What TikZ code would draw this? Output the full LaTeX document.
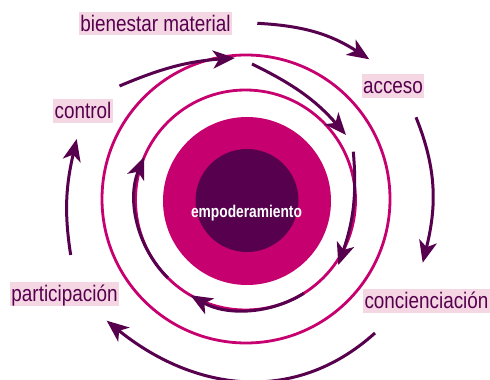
\documentclass[tikz,border=0pt]{standalone}
\usepackage{fontspec}
\setmainfont{Liberation Sans}
\newfontfamily\labfont{Liberation Sans}[FakeStretch=0.84]
\newfontfamily\cenfont{Liberation Sans}[FakeStretch=0.81]
\usetikzlibrary{arrows.meta,calc}
\definecolor{dpurple}{RGB}{86,0,78}
\definecolor{mag}{RGB}{198,0,110}
\definecolor{lpink}{RGB}{245,215,228}
\begin{document}
\begin{tikzpicture}[x=1pt,y=1pt,
  lbl/.style={fill=lpink, text=dpurple, inner xsep=1.5pt, inner ysep=0pt,
    text height=19.5pt, text depth=4pt, font=\labfont\fontsize{22.5}{26}\selectfont},
  ring/.style={circle, draw=mag, line width=2.8pt, inner sep=0pt},
  disc/.style={circle, inner sep=0pt},
  arr/.style={draw=dpurple, line width=3pt,
    -{Stealth[length=22pt,width=18pt,inset=6pt]}},
]
\useasboundingbox (0,0) rectangle (490,380);
% circles
\node[ring, minimum size=288pt] (outerring) at (246,181) {};
\node[ring, minimum size=220pt] (innerring) at (245.5,180) {};
\node[disc, fill=mag, minimum size=168pt] (pinkdisc) at (247,179) {};
\node[disc, fill=dpurple, minimum size=103pt] (core) at (247,179.5) {};
\node[text=white, font=\cenfont\bfseries\fontsize{17}{18}\selectfont, anchor=base, inner sep=0pt] (emp) at (246.5,162) {empoderamiento};
% outer arrows
\coordinate (a1) at (257.3,356.7); \coordinate (a2) at (369.3,320.7);
\coordinate (b1) at (416,262.7);   \coordinate (b2) at (422.7,117.3);
\coordinate (c1) at (375,47);      \coordinate (c2) at (106.7,59.3);
\coordinate (d1) at (70.7,125);    \coordinate (d2) at (76.7,241);
\coordinate (e1) at (119.5,294);   \coordinate (e2) at (235,322);
\draw[arr] (a1) to[out=-3,in=147] (a2);
\draw[arr] (b1) to[out=-68,in=76] (b2);
\draw[arr] (c1) to[out=222,in=-39,looseness=1.05] (c2);
\draw[arr] (d1) to[out=99,in=257] (d2);
\draw[arr] (e1) to[out=23,in=184] (e2);
% inner arrows
\coordinate (f1) at (252,316);     \coordinate (f2) at (346,245);
\coordinate (g1) at (353.3,228.3); \coordinate (g2) at (338.3,115);
\coordinate (h1) at ($(innerring.center)+(302:110)$);
\coordinate (i1) at ($(innerring.center)+(225:110)$);
\draw[arr] (f1) to[out=-26,in=131] (f2);
\draw[arr] (g1) to[out=-85,in=71] (g2);
\draw[arr] (h1) arc[start angle=302,end angle=240,radius=110];
\draw[arr] (i1) arc[start angle=225,end angle=157,radius=110];
% labels
\node[lbl] (bm) at (155.5,356.5) {bienestar material};
\node[lbl] (ac) at (393,294) {acceso};
\node[lbl] (co) at (83,269) {control};
\node[lbl] (pa) at (64.5,86) {participación};
\node[lbl] (cc) at (426.5,79) {concienciación};
\end{tikzpicture}
\end{document}
